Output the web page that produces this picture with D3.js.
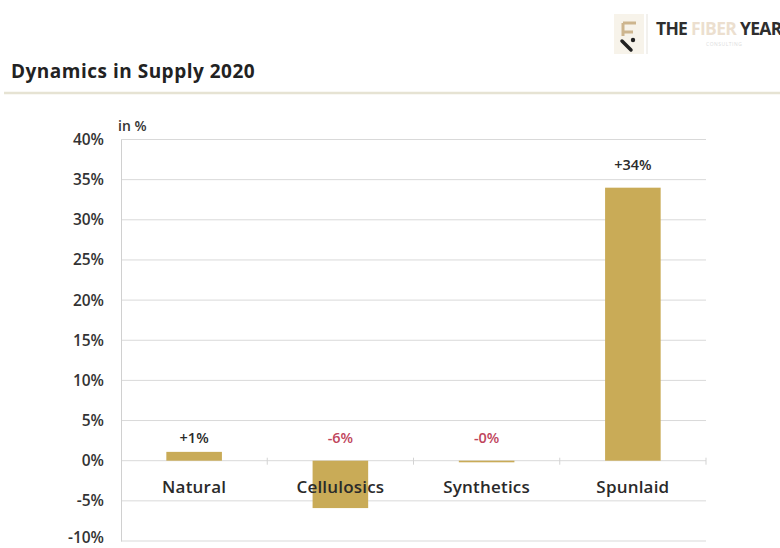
<!DOCTYPE html>
<html>
<head>
<meta charset="utf-8">
<script src="https://cdn.jsdelivr.net/npm/d3@7"></script>
<style>
  html, body { margin: 0; padding: 0; background: #fff; overflow: hidden; }
  svg { display: block; font-family: "Open Sans", "DejaVu Sans", sans-serif; }
</style>
</head>
<body>
<svg id="chart" width="780" height="548"></svg>
<script>
// Supply change by fibre segment, 2020 (in %)
const categories = ["Natural", "Cellulosics", "Synthetics", "Spunlaid"];
const changes = [1.1, -5.9, -0.2, 34];
const valueLabels = ["+1%", "-6%", "-0%", "+34%"];
const yTicks = [-10, -5, 0, 5, 10, 15, 20, 25, 30, 35, 40];

const svg = d3.select("#chart");
const margin = { left: 121, right: 74, top: 139.5, bottom: 7 };
const W = 780, H = 548;

const x = d3.scaleBand()
  .domain(categories)
  .range([margin.left, W - margin.right])
  .paddingInner(0.62)
  .paddingOuter(0.31);

const y = d3.scaleLinear()
  .domain([-10, 40])
  .range([H - margin.bottom, margin.top]);

// header: title, rule and brand mark
svg.append("text")
  .attr("x", 11).attr("y", 78)
  .attr("font-size", 19).attr("font-weight", 700)
  .attr("letter-spacing", 0.5)
  .attr("fill", "#222")
  .text("Dynamics in Supply 2020");

svg.append("line")
  .attr("x1", 4).attr("x2", W)
  .attr("y1", 93).attr("y2", 93)
  .attr("stroke", "#e6e3d3").attr("stroke-width", 2.5);

const logo = svg.append("g").attr("transform", "translate(614,14)");
logo.append("rect").attr("x", 0).attr("y", 0).attr("width", 30).attr("height", 40)
  .attr("fill", "#f7f3ea");
logo.append("line").attr("x1", 33).attr("x2", 33).attr("y1", 0).attr("y2", 40)
  .attr("stroke", "#e6e3dd").attr("stroke-width", 1);
logo.append("path").attr("d", "M9 9 H22 M9 9 V18 H19 M9 18 V22")
  .attr("stroke", "#cdb58e").attr("stroke-width", 3).attr("fill", "none");
logo.append("path").attr("d", "M8 27 L17 36")
  .attr("stroke", "#222").attr("stroke-width", 3.5).attr("stroke-linecap", "round");
logo.append("circle").attr("cx", 19).attr("cy", 26).attr("r", 2.2).attr("fill", "#222");

const brand = svg.append("text")
  .attr("x", 656).attr("y", 35)
  .attr("font-size", 17.5).attr("font-weight", 700)
  .attr("letter-spacing", -0.7)
  .attr("font-family", "'Open Sans', sans-serif");
brand.append("tspan").attr("fill", "#2e2e2e").text("THE ");
brand.append("tspan").attr("fill", "#ecdfcf").text("FIBER");
brand.append("tspan").attr("fill", "#2e2e2e").text(" YEAR");
svg.append("text")
  .attr("x", 706).attr("y", 46)
  .attr("font-size", 5).attr("fill", "#ddd")
  .attr("letter-spacing", 0.5)
  .text("CONSULTING");

// gridlines
svg.append("g")
  .selectAll("line")
  .data(yTicks)
  .join("line")
  .attr("x1", margin.left).attr("x2", W - margin.right)
  .attr("y1", d => y(d)).attr("y2", d => y(d))
  .attr("stroke", "#d9d9d9").attr("stroke-width", 1);

// y axis
const yAxis = svg.append("g")
  .attr("transform", `translate(${margin.left},0)`)
  .call(d3.axisLeft(y).tickValues(yTicks).tickSize(0).tickPadding(17)
    .tickFormat(d => d + "%"));
yAxis.select(".domain").attr("stroke", "#d0d0d0");
yAxis.selectAll("text")
  .attr("font-size", 15.5).attr("fill", "#333")
  .attr("font-weight", 600)
  .attr("font-family", "'Open Sans', sans-serif")
  .attr("dy", d => d === -10 ? "0.1em" : "0.32em");

svg.append("text")
  .attr("x", 118).attr("y", 131)
  .attr("font-size", 14).attr("fill", "#333")
  .attr("font-weight", 600)
  .text("in %");

// bars
svg.append("g")
  .selectAll("rect")
  .data(changes)
  .join("rect")
  .attr("x", (d, i) => x(categories[i]))
  .attr("width", x.bandwidth())
  .attr("y", d => y(Math.max(0, d)))
  .attr("height", d => Math.abs(y(d) - y(0)))
  .attr("fill", "#c9ab57");

// category boundary ticks on the zero line
svg.append("g")
  .selectAll("line")
  .data(categories.map((c, i) => margin.left + (i + 1) * (W - margin.right - margin.left) / categories.length))
  .join("line")
  .attr("x1", d => d).attr("x2", d => d)
  .attr("y1", y(0) - 3).attr("y2", y(0) + 4)
  .attr("stroke", "#d3d3d3").attr("stroke-width", 1);

// category labels, below the zero line
svg.append("g")
  .selectAll("text")
  .data(categories)
  .join("text")
  .attr("x", d => x(d) + x.bandwidth() / 2)
  .attr("y", 493)
  .attr("text-anchor", "middle")
  .attr("font-size", 17).attr("fill", "#2a2a2a")
  .attr("font-weight", 600)
  .attr("letter-spacing", 0.2)
  .text(d => d);

// value labels
svg.append("g")
  .selectAll("text")
  .data(changes)
  .join("text")
  .attr("x", (d, i) => x(categories[i]) + x.bandwidth() / 2)
  .attr("y", (d, i) => d > 10 ? y(d) - 18 : y(5) + 22)
  .attr("text-anchor", "middle")
  .attr("font-size", 14.5)
  .attr("font-weight", 600)
  .attr("fill", d => d < 0 ? "#c0455c" : "#2a2a2a")
  .text((d, i) => valueLabels[i]);
</script>
</body>
</html>
